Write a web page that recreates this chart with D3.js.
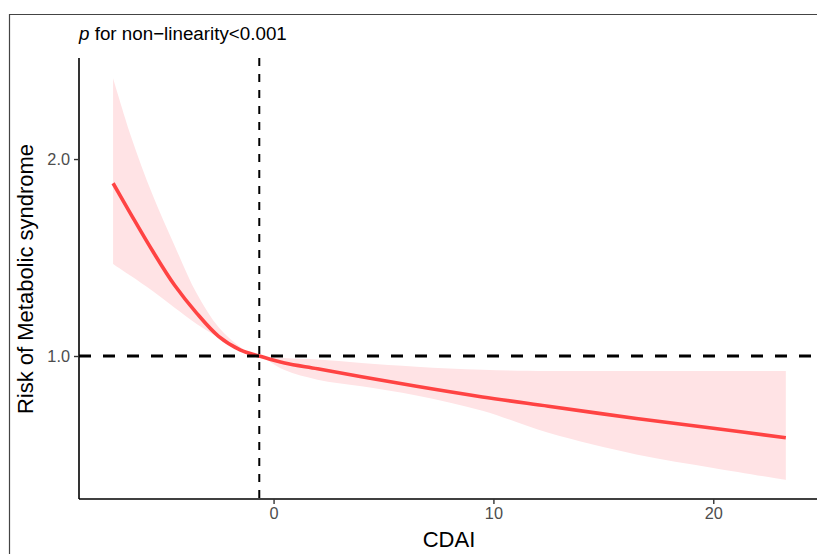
<!DOCTYPE html>
<html>
<head>
<meta charset="utf-8">
<script src="https://cdn.jsdelivr.net/npm/d3@7"></script>
<style>
  html, body { margin: 0; padding: 0; background: #fff; }
  svg { display: block; font-family: "Liberation Sans", Arial, sans-serif; }
</style>
</head>
<body>
<svg id="chart" width="817" height="554"></svg>
<script>
// ---- data ----
const cdai    = [-7.3, -6.5, -5.5, -4.5, -3.5, -2.5, -1.5, -0.65, 0.5, 2.0, 4.0, 6.5, 9.5, 12.5, 16.5, 20.0, 23.3];
const risk    = [1.877, 1.722, 1.533, 1.359, 1.218, 1.100, 1.030, 1.000, 0.964, 0.935, 0.895, 0.846, 0.792, 0.745, 0.683, 0.633, 0.585];
const upperCI = [2.410, 2.120, 1.817, 1.560, 1.318, 1.146, 1.045, 1.000, 0.990, 0.982, 0.965, 0.946, 0.930, 0.924, 0.924, 0.924, 0.924];
const lowerCI = [1.467, 1.407, 1.330, 1.245, 1.163, 1.094, 1.025, 1.000, 0.929, 0.880, 0.846, 0.800, 0.722, 0.610, 0.500, 0.432, 0.371];
const refX = -0.65;
const refY = 1.0;
const xTicks = [0, 10, 20];
const yTicks = [1.0, 2.0];
const titleText = "for non\u2212linearity<0.001";
const xLabel = "CDAI";
const yLabel = "Risk of Metabolic syndrome";

const rows = cdai.map((x, i) => ({ x, y: risk[i], lo: lowerCI[i], hi: upperCI[i] }));

const svg = d3.select("#chart");
svg.append("rect").attr("width", 817).attr("height", 554).attr("fill", "#fff");

// outer frame
svg.append("path")
  .attr("d", "M9.5,560 L9.5,14.5 L830,14.5")
  .attr("fill", "none").attr("stroke", "#444").attr("stroke-width", 1.2);

const x = d3.scaleLinear().domain([-8.85, 24.9]).range([79, 821]);
const y = d3.scaleLinear().domain([0.274, 2.513]).range([499, 58]);

const smooth = d3.curveCatmullRom.alpha(0.5);

// ribbon
svg.append("path")
  .datum(rows)
  .attr("fill", "#FFE3E5")
  .attr("d", d3.area().x(d => x(d.x)).y0(d => y(d.lo)).y1(d => y(d.hi)).curve(smooth));

// curve
svg.append("path")
  .datum(rows)
  .attr("fill", "none")
  .attr("stroke", "#FF4343")
  .attr("stroke-width", 3.6)
  .attr("d", d3.line().x(d => x(d.x)).y(d => y(d.y)).curve(smooth));

// reference lines
svg.append("line")
  .attr("x1", 79).attr("x2", 821).attr("y1", y(refY)).attr("y2", y(refY))
  .attr("stroke", "#000").attr("stroke-width", 3).attr("stroke-dasharray", "12,12");
svg.append("line")
  .attr("x1", x(refX)).attr("x2", x(refX)).attr("y1", 58).attr("y2", 499)
  .attr("stroke", "#000").attr("stroke-width", 2).attr("stroke-dasharray", "8,8");

// axes
const xAxis = svg.append("g").attr("transform", "translate(0,499)")
  .call(d3.axisBottom(x).tickValues(xTicks).tickFormat(d3.format("d")).tickSizeOuter(0).tickSize(5).tickPadding(3));
const yAxis = svg.append("g").attr("transform", "translate(79,0)")
  .call(d3.axisLeft(y).tickValues(yTicks).tickFormat(d3.format(".1f")).tickSizeOuter(0).tickSize(5).tickPadding(4));

[xAxis, yAxis].forEach(g => {
  g.select(".domain").attr("stroke", "#000").attr("stroke-width", 1.6);
  g.selectAll(".tick line").attr("stroke", "#333").attr("stroke-width", 1.4);
  g.selectAll(".tick text").attr("fill", "#4D4D4D").attr("font-size", "16.3px")
    .attr("font-family", "Liberation Sans, Arial, sans-serif");
});
xAxis.select(".domain").attr("d", "M79,0H817");
yAxis.select(".domain").attr("d", "M0,58V499");

// title
const t = svg.append("text").attr("x", 79).attr("y", 40).attr("font-size", "18.8px").attr("fill", "#000");
t.append("tspan").attr("font-style", "italic").text("p");
t.append("tspan").text(" " + titleText);

// axis titles
svg.append("text").attr("x", 449).attr("y", 547).attr("text-anchor", "middle")
  .attr("font-size", "22px").attr("fill", "#000").text(xLabel);
svg.append("text").attr("transform", "translate(33,279) rotate(-90)").attr("text-anchor", "middle")
  .attr("font-size", "22px").attr("fill", "#000").text(yLabel);
</script>
</body>
</html>
